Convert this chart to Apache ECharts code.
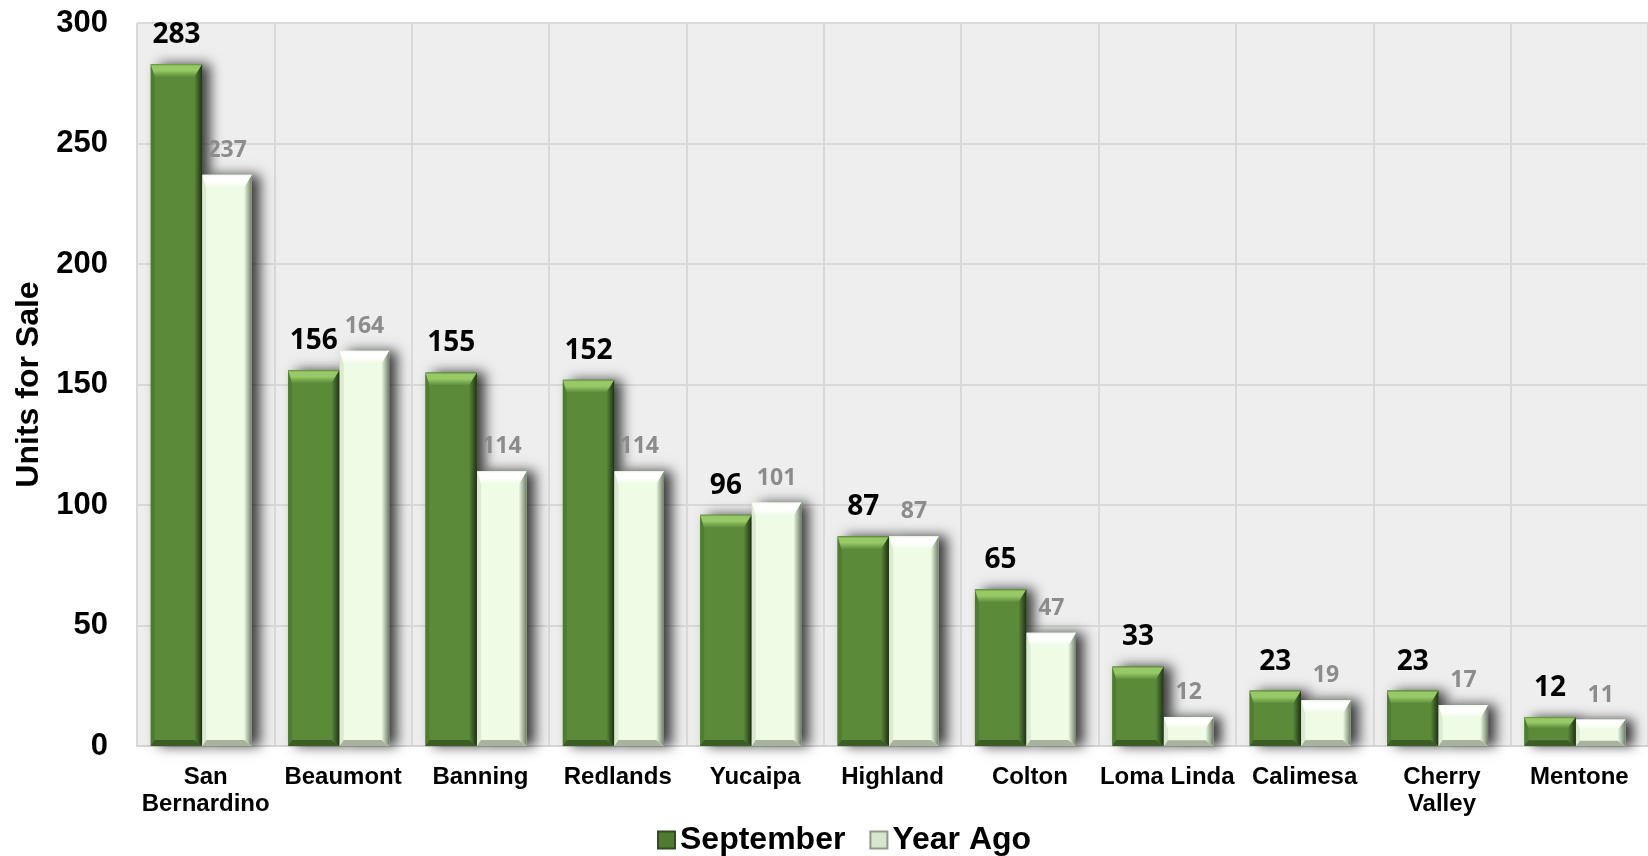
<!DOCTYPE html>
<html>
<head>
<meta charset="utf-8">
<title>Units for Sale</title>
<script src="https://cdn.jsdelivr.net/npm/echarts@6/dist/echarts.min.js"></script>
<style>
  html, body { margin: 0; padding: 0; background: #ffffff; }
  #chart { width: 1648px; height: 856px; }
</style>
</head>
<body>
<div id="chart"></div>
<script>
// Cities (tick labels) and listing counts
const categories = ['San\nBernardino', 'Beaumont', 'Banning', 'Redlands', 'Yucaipa', 'Highland',
                    'Colton', 'Loma Linda', 'Calimesa', 'Cherry\nValley', 'Mentone'];
const september = [283, 156, 155, 152, 96, 87, 65, 33, 23, 23, 12];
const yearAgo   = [237, 164, 114, 114, 101, 87, 47, 12, 19, 17, 11];
const yTicks = { min: 0, max: 300, interval: 50 };

const G = echarts.graphic;

// Colour sets for the bevelled bars
const greenStyle = {
  main: '#5b8b39', topLight: '#97c966', left: '#4f7d30', right: '#1f3317', bottom: '#3a5e24',
  label: '#000000', labelSize: 28, labelDist: 15
};
const paleStyle = {
  main: '#eefbe5', topLight: '#ffffff', left: '#dcead2', right: '#6f7e67', bottom: '#a7b39d',
  label: '#8c8c8c', labelSize: 23, labelDist: 13
};

function bevelBar(style, offset, widthFrac) {
  return function (params, api) {
    const idx = api.value(0);
    const v = api.value(1);
    const base = api.coord([idx, 0]);
    const top = api.coord([idx, v]);
    const bw = api.size([1, 0])[0];
    const x0 = base[0] + offset * bw;
    const w = widthFrac * bw;
    const x1 = x0 + w;
    const yT = top[1];
    const yB = base[1];
    const h = yB - yT;
    const tb = Math.min(13, h * 0.38);   // top bevel depth
    const sb = Math.min(8, w * 0.16);    // right bevel width
    const lb = Math.min(4, w * 0.08);    // left bevel width
    const bb = Math.min(6, h * 0.2);     // bottom bevel depth

    return {
      type: 'group',
      children: [
        {
          type: 'rect',
          shape: { x: x0, y: yT, width: w, height: h },
          style: {
            fill: style.main,
            shadowBlur: 12,
            shadowColor: 'rgba(0,0,0,0.75)',
            shadowOffsetX: 8,
            shadowOffsetY: 0
          }
        },
        {
          type: 'polygon',
          shape: { points: [[x0, yT], [x0 + lb, yT + tb], [x0 + lb, yB - bb], [x0, yB]] },
          style: { fill: style.left }
        },
        {
          type: 'polygon',
          shape: { points: [[x1, yT], [x1, yB], [x1 - sb, yB - bb], [x1 - sb, yT + tb]] },
          style: {
            fill: new G.LinearGradient(0, 0, 1, 0, [
              { offset: 0, color: style.main },
              { offset: 1, color: style.right }
            ])
          }
        },
        {
          type: 'polygon',
          shape: { points: [[x0, yB], [x1, yB], [x1 - sb, yB - bb], [x0 + lb, yB - bb]] },
          style: { fill: style.bottom }
        },
        {
          type: 'polygon',
          shape: { points: [[x0, yT], [x1, yT], [x1 - sb, yT + tb], [x0 + lb, yT + tb]] },
          style: {
            fill: new G.LinearGradient(0, 0, 0, 1, [
              { offset: 0, color: style.main },
              { offset: 0.15, color: style.topLight },
              { offset: 0.5, color: style.topLight },
              { offset: 1, color: style.main }
            ])
          }
        },
        {
          type: 'text',
          x: x0 + w / 2,
          y: yT - style.labelDist,
          style: {
            text: String(v),
            fill: style.label,
            font: 'bold ' + style.labelSize + 'px "Open Sans", sans-serif',
            textAlign: 'center',
            textVerticalAlign: 'bottom'
          }
        }
      ]
    };
  };
}

const chart = echarts.init(document.getElementById('chart'), null, { renderer: 'canvas' });

chart.setOption({
  animation: false,
  backgroundColor: '#ffffff',
  grid: {
    left: 137, right: 0, top: 23, bottom: 110,
    show: true, backgroundColor: '#eeeeee', borderWidth: 0
  },
  legend: {
    data: [
      { name: 'September', icon: 'rect', itemStyle: { color: '#4f7d30', borderColor: '#2f4d1e', borderWidth: 2 } },
      { name: 'Year Ago', icon: 'rect', itemStyle: { color: '#d9e6cf', borderColor: '#8d9986', borderWidth: 2 } }
    ],
    left: 652,
    top: 819,
    itemWidth: 17,
    itemHeight: 17,
    itemGap: 24,
    textStyle: {
      fontFamily: '"Liberation Sans", Arial, sans-serif',
      fontWeight: 'bold',
      fontSize: 32,
      color: '#000000'
    }
  },
  xAxis: {
    type: 'category',
    data: categories,
    boundaryGap: true,
    axisLine: { show: true, lineStyle: { color: '#d4d4d4', width: 2 } },
    axisTick: { show: false },
    splitLine: { show: true, interval: 0, lineStyle: { color: '#d9d9d9', width: 2 } },
    axisLabel: {
      interval: 0,
      margin: 18,
      fontFamily: '"Liberation Sans", Arial, sans-serif',
      fontWeight: 'bold',
      fontSize: 24,
      lineHeight: 27,
      color: '#000000'
    }
  },
  yAxis: {
    type: 'value',
    min: yTicks.min,
    max: yTicks.max,
    interval: yTicks.interval,
    name: 'Units for Sale',
    nameLocation: 'middle',
    nameGap: 90,
    nameTextStyle: {
      fontFamily: '"Liberation Sans", Arial, sans-serif',
      fontWeight: 'bold',
      fontSize: 32,
      color: '#000000'
    },
    axisLine: { show: false },
    axisTick: { show: false },
    splitLine: { show: true, lineStyle: { color: '#d9d9d9', width: 2 } },
    axisLabel: {
      margin: 29,
      fontFamily: '"Liberation Sans", Arial, sans-serif',
      fontWeight: 'bold',
      fontSize: 31,
      color: '#000000'
    }
  },
  series: [
    {
      name: 'September',
      type: 'custom',
      renderItem: bevelBar(greenStyle, -0.40, 0.374),
      itemStyle: { color: '#4f7d30' },
      encode: { x: 0, y: 1 },
      data: september.map((v, i) => [i, v]),
      z: 2
    },
    {
      name: 'Year Ago',
      type: 'custom',
      renderItem: bevelBar(paleStyle, -0.024, 0.36),
      itemStyle: { color: '#d9e6cf' },
      encode: { x: 0, y: 1 },
      data: yearAgo.map((v, i) => [i, v]),
      z: 3
    }
  ]
});
</script>
</body>
</html>
